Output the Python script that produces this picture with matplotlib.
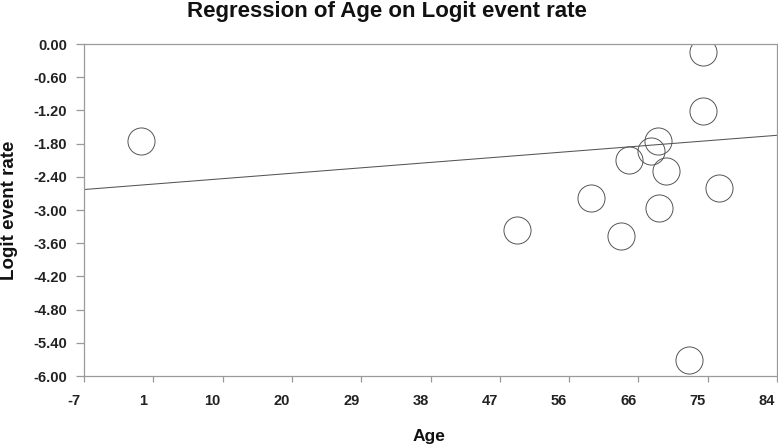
import numpy as np
import matplotlib
matplotlib.use('Agg')
from matplotlib import pyplot as plt
from matplotlib.ticker import FormatStrFormatter
from matplotlib.transforms import ScaledTranslation

plt.rcParams['font.family'] = ['Liberation Sans', 'DejaVu Sans']
plt.rcParams['font.weight'] = 'bold'

# Studies: mean age vs logit event rate
ages = [0.5, 74.3, 74.3, 68.4, 67.5, 64.5, 69.4, 76.4, 59.6, 68.5, 49.8, 63.5, 72.4]
logits = [-1.75, -0.15, -1.21, -1.75, -1.93, -2.09, -2.29, -2.60, -2.79, -2.96, -3.36, -3.47, -5.71]

# Regression line end points
line_x = [-7, 84]
line_y = [-2.63, -1.65]

x_ticks = np.linspace(-7, 84, 11)
x_labels = ['-7', '1', '10', '20', '29', '38', '47', '56', '66', '75', '84']
y_ticks = np.arange(0, -6.01, -0.6)

fig = plt.figure(figsize=(7.78, 4.45), dpi=100)
ax = fig.add_axes([84/778, 1 - 376/445, 693/778, 332/445])

ax.plot(line_x, line_y, color='#555555', lw=0.75)
ax.plot(ages, logits, linestyle='none', marker='o', markersize=19.5,
        markerfacecolor='none', markeredgecolor='#555555', markeredgewidth=0.7)

ax.set_xlim(-7, 84)
ax.set_ylim(-6, 0)
ax.set_xticks(x_ticks)
ax.set_xticklabels(x_labels)
ax.set_yticks(y_ticks)
ax.yaxis.set_major_formatter(FormatStrFormatter('%.2f'))

for s in ax.spines.values():
    s.set_color('#9a9a9a')
    s.set_linewidth(0.9)
ax.tick_params(axis='both', colors='#9a9a9a', labelcolor='#222222', labelsize=10.5, width=0.9)
ax.tick_params(axis='x', length=4, pad=9)
ax.tick_params(axis='y', length=6, pad=6)

# x labels sit a little left of their ticks in the original
shift = ScaledTranslation(-0.1, 0, fig.dpi_scale_trans)
for lab in ax.get_xticklabels():
    lab.set_transform(lab.get_transform() + shift)
    lab.set_fontweight('bold')
for lab in ax.get_yticklabels():
    lab.set_fontweight('bold')

fig.text(386.5/778, 1 - 17.5/445, 'Regression of Age on Logit event rate',
         ha='center', va='baseline', fontsize=16, fontweight='bold', color='#111111')
fig.text(429/778, 1 - 441/445, 'Age', ha='center', va='baseline',
         fontsize=12.5, fontweight='bold', color='#111111')
fig.text(9.5/778, 1 - 210/445, 'Logit event rate', ha='center', va='center',
         rotation=90, fontsize=13.5, fontweight='bold', color='#111111')

fig.savefig('out.png', dpi=100)
